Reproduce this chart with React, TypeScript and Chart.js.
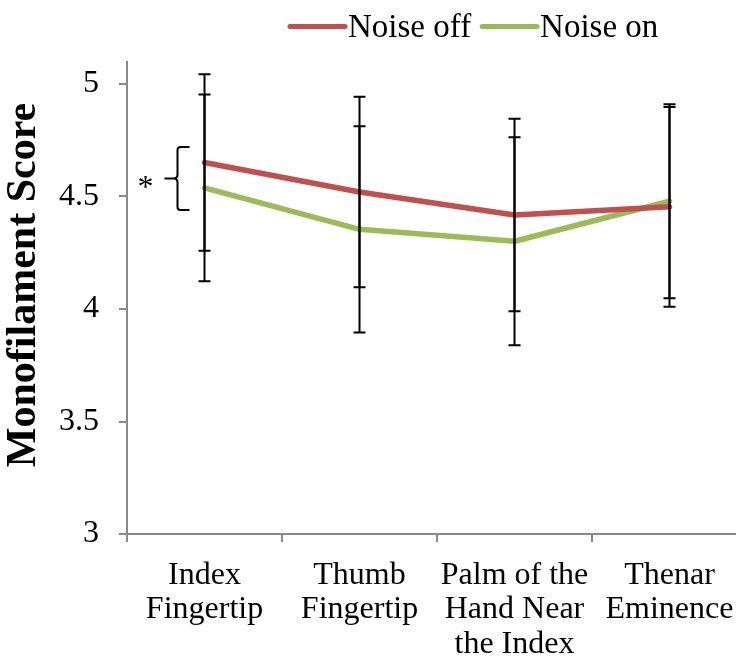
import React, { useEffect, useRef } from "react";
import { Chart, registerables } from "chart.js";

Chart.register(...registerables);

// ---- data ----
const categories: string[][] = [
  ["Index", "Fingertip"],
  ["Thumb", "Fingertip"],
  ["Palm of the", "Hand Near", "the Index"],
  ["Thenar", "Eminence"],
];
const seriesNames = ["Noise off", "Noise on"];
const noiseOff = [4.651, 4.52, 4.418, 4.454];
const noiseOffErr = [0.392, 0.423, 0.428, 0.444];
const noiseOn = [4.538, 4.354, 4.301, 4.479];
const noiseOnErr = [0.415, 0.458, 0.462, 0.431];
const yTicks = [3, 3.5, 4, 4.5, 5];
const yTitle = "Monofilament Score";
// significance bracket on the first category (value range) and its mark
const bracketRange = [4.72, 4.44];
const bracketMark = "*";

const FONT = "'Times New Roman', 'Liberation Serif', serif";
const RED = "#C0504D";
const GREEN = "#9BBB59";
const AXIS = "#898989";

const errorBarsPlugin = {
  id: "errorBars",
  afterDatasetsDraw(chart: any) {
    const { ctx } = chart;
    const y = chart.scales.y;
    chart.data.datasets.forEach((ds: any, di: number) => {
      const meta = chart.getDatasetMeta(di);
      meta.data.forEach((pt: any, i: number) => {
        const v = ds.data[i];
        const e = ds.errors[i];
        const top = y.getPixelForValue(v + e);
        const bot = y.getPixelForValue(v - e);
        ctx.save();
        ctx.strokeStyle = "#000";
        ctx.lineWidth = 2;
        ctx.beginPath();
        ctx.moveTo(pt.x, top);
        ctx.lineTo(pt.x, bot);
        ctx.moveTo(pt.x - 6, top);
        ctx.lineTo(pt.x + 6, top);
        ctx.moveTo(pt.x - 6, bot);
        ctx.lineTo(pt.x + 6, bot);
        ctx.stroke();
        ctx.restore();
      });
    });
  },
};

const annotationPlugin = {
  id: "annot",
  afterDraw(chart: any) {
    const { ctx } = chart;
    const y = chart.scales.y;
    const x = chart.scales.x;
    const cx = x.getPixelForValue(0);
    const yt = y.getPixelForValue(bracketRange[0]);
    const yb = y.getPixelForValue(bracketRange[1]);
    const ym = (yt + yb) / 2;
    const xr = cx - 15;
    const xv = cx - 27;
    const xn = cx - 40;
    ctx.save();
    ctx.strokeStyle = "#000";
    ctx.lineWidth = 2;
    ctx.beginPath();
    ctx.moveTo(xr, yt);
    ctx.lineTo(xv + 3, yt);
    ctx.quadraticCurveTo(xv, yt, xv, yt + 3);
    ctx.lineTo(xv, ym - 4);
    ctx.quadraticCurveTo(xv, ym, xv - 4, ym);
    ctx.lineTo(xn, ym);
    ctx.moveTo(xv - 4, ym);
    ctx.quadraticCurveTo(xv, ym, xv, ym + 4);
    ctx.lineTo(xv, yb - 3);
    ctx.quadraticCurveTo(xv, yb, xv + 3, yb);
    ctx.lineTo(xr, yb);
    ctx.stroke();
    ctx.fillStyle = "#000";
    ctx.font = `32px ${FONT}`;
    ctx.textAlign = "center";
    ctx.textBaseline = "alphabetic";
    ctx.fillText(bracketMark, cx - 59, ym + 18);

    // y-axis title
    ctx.save();
    ctx.translate(24.5, 285);
    ctx.rotate(-Math.PI / 2);
    ctx.font = `bold 42px ${FONT}`;
    ctx.textAlign = "center";
    ctx.textBaseline = "middle";
    ctx.fillText(yTitle, 0, 0);
    ctx.restore();

    // legend
    const colors = [RED, GREEN];
    let lx = 290;
    ctx.font = `33px ${FONT}`;
    ctx.textAlign = "left";
    ctx.textBaseline = "alphabetic";
    seriesNames.forEach((name, i) => {
      ctx.strokeStyle = colors[i];
      ctx.lineWidth = 5;
      ctx.lineCap = "round";
      ctx.beginPath();
      ctx.moveTo(lx, 26.5);
      ctx.lineTo(lx + 55, 26.5);
      ctx.stroke();
      ctx.fillStyle = "#000";
      ctx.fillText(name, lx + 58, 37);
      lx += 58 + ctx.measureText(name).width + 11;
    });
    ctx.restore();
  },
};

export default function App() {
  const ref = useRef<HTMLCanvasElement>(null);
  useEffect(() => {
    if (!ref.current) return;
    const chart = new Chart(ref.current, {
      type: "line",
      data: {
        labels: categories as any,
        datasets: [
          {
            label: seriesNames[0],
            data: noiseOff,
            errors: noiseOffErr,
            borderColor: RED,
            backgroundColor: RED,
            borderWidth: 5.5,
            pointRadius: 0,
            borderCapStyle: "round",
            borderJoinStyle: "round",
            tension: 0,
          } as any,
          {
            label: seriesNames[1],
            data: noiseOn,
            errors: noiseOnErr,
            borderColor: GREEN,
            backgroundColor: GREEN,
            borderWidth: 5.5,
            pointRadius: 0,
            borderCapStyle: "round",
            borderJoinStyle: "round",
            tension: 0,
          } as any,
        ],
      },
      options: {
        animation: false,
        responsive: false,
        devicePixelRatio: 1,
        layout: { padding: { left: 0, right: 13, top: 61.5, bottom: 0 } },
        plugins: { legend: { display: false }, tooltip: { enabled: false } },
        scales: {
          x: {
            type: "category",
            offset: true,
            grid: {
              offset: true,
              drawOnChartArea: false,
              drawTicks: true,
              tickLength: 8,
              color: AXIS,
              lineWidth: 2,
            },
            border: { color: AXIS, width: 2 },
            ticks: {
              color: "#000",
              padding: 16,
              maxRotation: 0,
              autoSkip: false,
              font: { family: FONT, size: 32, lineHeight: 1.08 },
            },
            afterFit: (s: any) => {
              s.height = 124;
            },
          },
          y: {
            type: "linear",
            min: 3,
            max: 5.1,
            bounds: "data",
            grid: {
              drawOnChartArea: false,
              drawTicks: true,
              tickLength: 8,
              color: AXIS,
              lineWidth: 2,
            },
            border: { color: AXIS, width: 2 },
            ticks: {
              color: "#000",
              padding: 20,
              font: { family: FONT, size: 32 },
              callback: (v: any) => String(Number(v)),
            },
            afterBuildTicks: (s: any) => {
              s.ticks = yTicks.map((v) => ({ value: v }));
            },
            afterFit: (s: any) => {
              s.width = 127;
            },
          },
        },
      },
      plugins: [errorBarsPlugin, annotationPlugin],
    });
    return () => chart.destroy();
  }, []);
  return (
    <div
      style={{
        position: "absolute",
        left: 0,
        top: 0,
        width: 736,
        height: 658,
        overflow: "hidden",
        background: "#fff",
      }}
    >
      <canvas ref={ref} width={760} height={658} style={{ width: 760, height: 658, display: "block" }} />
    </div>
  );
}
